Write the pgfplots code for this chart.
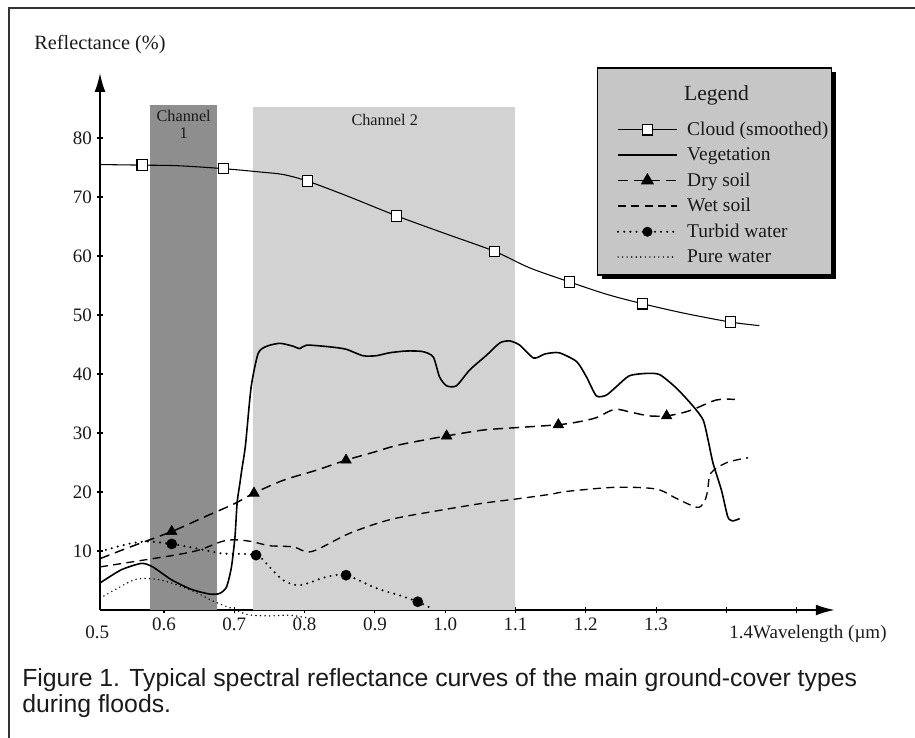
\documentclass[border=0pt]{standalone}
\usepackage{pgfplots}
\pgfplotsset{compat=1.18}
\usepackage{fontspec}
\setmainfont{Liberation Serif}
\newfontfamily\capfont{Liberation Sans}
\usetikzlibrary{arrows.meta}
\definecolor{chA}{HTML}{8E8E8E}
\definecolor{chB}{HTML}{D2D2D2}
\definecolor{legfill}{HTML}{C6C6C6}
\definecolor{ink}{HTML}{1A1A1A}
\pgfplotsset{
  cloudst/.style={black, line width=0.8pt},
  vegst/.style={black, line width=1.2pt},
  dryst/.style={black, line width=1.1pt, dash pattern=on 7.5pt off 4.5pt},
  wetst/.style={black, line width=1.0pt, dash pattern=on 6pt off 4pt},
  turbst/.style={black, line width=1.7pt, line cap=round, dash pattern=on 0pt off 4.6pt},
  purest/.style={black, line width=1.2pt, line cap=round, dash pattern=on 0pt off 3.4pt},
}
\begin{document}
\begin{tikzpicture}
\useasboundingbox (0,0) rectangle (686.25pt,-553.5pt);
\begin{scope}[x=0.75pt,y=-0.75pt]
\draw[line width=1.5pt, black!80] (9,738) -- (9,8) -- (915,8);
\node[anchor=north west, align=left, inner sep=0pt, font=\capfont\fontsize{18.6}{19.6}\selectfont, text=ink] at (22,668) {Figure 1. Typical spectral reflectance curves of the main ground-cover types\\during floods.};
\end{scope}
\begin{axis}[
  at={(75pt,-457.5pt)}, anchor=south west,
  x=527.25pt, y=4.425pt,
  xmin=0.509, xmax=1.554, ymin=0, ymax=91,
  axis lines=left,
  axis line style={line width=1.1pt, -{Latex[length=14pt,width=8pt]}},
  clip=false,
  tick align=center, major tick length=5pt,
  tick style={line width=0.8pt, black},
  xtick={0.6,0.7,0.8,0.9,1.0,1.1,1.2,1.3,1.4,1.5},
  xticklabels={0.6,0.7,0.8,0.9,1.0,1.1,1.2,1.3,,},
  ytick={10,20,30,40,50,60,70,80},
  yticklabels={10,20,30,40,50,60,70,80},
  ticklabel style={font=\fontsize{14.25}{17}\selectfont, text=ink},
  /pgf/number format/assume math mode=true,
  legend style={at={(axis cs:1.244,83.2)}, anchor=north west, draw=none, fill=none,
     font=\fontsize{14.6}{15}\selectfont, row sep=3.6pt, inner sep=0pt,
     nodes={inner sep=2pt, text=ink}},
  legend cell align=left,
  legend image code/.code={\draw[mark repeat=2,mark phase=2,#1] plot coordinates {(0pt,0pt)(22pt,0pt)(44pt,0pt)}; \path (49pt,0pt);},
]
% channel bands
\addplot[fill=chA, draw=none, forget plot] coordinates {(0.580,85.6) (0.676,85.6)} \closedcycle;
\addplot[fill=chB, draw=none, forget plot] coordinates {(0.726,85.2) (1.100,85.2)} \closedcycle;
\node[align=center, inner sep=0pt, font=\fontsize{12.2}{12.5}\selectfont, text=ink] at (axis cs:0.628,82.3) {Channel\\1};
\node[inner sep=0pt, font=\fontsize{12.2}{12.5}\selectfont, text=ink] at (axis cs:0.914,83.0) {Channel 2};

% cloud
\addplot[cloudst, smooth, tension=0.5, forget plot] coordinates {
(0.509,75.5) (0.569,75.4) (0.620,75.3) (0.685,74.8) (0.740,74.2) (0.770,73.8)
(0.804,72.7) (0.860,70.2) (0.931,66.8) (1.000,63.8) (1.070,60.8) (1.120,58.0)
(1.177,55.6) (1.230,53.5) (1.281,51.9) (1.340,50.3) (1.406,48.8) (1.447,48.2)};
\addplot[only marks, mark=square*, mark size=3.9pt, mark options={fill=white, draw=black, line width=0.8pt}, forget plot] coordinates {
(0.569,75.4) (0.685,74.8) (0.804,72.7) (0.931,66.8) (1.070,60.8) (1.177,55.6) (1.281,51.9) (1.406,48.8)};

% vegetation
\addplot[vegst, smooth, tension=0.4, forget plot] coordinates {
(0.508,4.5) (0.539,6.8) (0.568,7.9) (0.584,7.3) (0.611,5.1) (0.639,3.5) (0.665,2.7)
(0.679,2.8) (0.689,3.9) (0.696,7.3) (0.701,12.4) (0.704,18.1) (0.708,21.5) (0.711,24.0)
(0.716,28.0) (0.724,37.8) (0.734,43.5) (0.746,44.7) (0.765,45.2) (0.784,44.7) (0.793,44.3)
(0.803,44.9) (0.836,44.6) (0.859,44.2) (0.883,43.1) (0.902,43.1) (0.921,43.6) (0.945,43.9)
(0.968,43.8) (0.983,42.9) (0.992,39.5) (1.002,38.0) (1.016,38.0) (1.035,40.7) (1.059,43.2)
(1.078,45.3) (1.092,45.6) (1.106,44.9) (1.126,42.7) (1.142,43.4) (1.162,43.6) (1.187,42.1)
(1.201,39.5) (1.215,36.3) (1.229,36.4) (1.243,37.8) (1.262,39.7) (1.286,40.1) (1.305,39.9)
(1.329,37.6) (1.353,34.5) (1.367,32.2) (1.374,28.8) (1.381,24.9) (1.393,20.3) (1.402,15.8)
(1.409,15.1) (1.419,15.5)};

% dry soil
\addplot[dryst, smooth, tension=0.5, forget plot] coordinates {
(0.509,8.7) (0.550,10.6) (0.611,13.3) (0.660,15.9) (0.700,18.0) (0.728,19.8) (0.770,22.0)
(0.817,23.7) (0.859,25.4) (0.900,26.8) (0.935,28.0) (1.002,29.5) (1.054,30.5) (1.100,30.9)
(1.161,31.4) (1.190,31.9) (1.215,32.6) (1.241,34.0) (1.265,33.5) (1.290,32.9) (1.315,32.9)
(1.340,33.5) (1.357,34.2) (1.386,35.6) (1.412,35.7)};
\addplot[only marks, mark=triangle*, mark size=4.6pt, mark options={fill=black, draw=black, solid}, forget plot] coordinates {
(0.611,13.3) (0.728,19.8) (0.859,25.4) (1.002,29.5) (1.161,31.4) (1.315,32.9)};

% wet soil
\addplot[wetst, smooth, tension=0.5, forget plot] coordinates {
(0.509,7.3) (0.573,8.5) (0.620,9.4) (0.651,10.2) (0.682,11.6) (0.701,11.9) (0.725,11.6)
(0.750,10.9) (0.784,10.7) (0.810,9.9) (0.864,13.0) (0.921,15.3) (0.983,16.7) (1.054,18.1)
(1.100,18.8) (1.149,19.6) (1.173,20.1) (1.243,20.8) (1.300,20.5) (1.329,18.9) (1.358,17.4)
(1.368,18.2) (1.373,20.0) (1.378,23.2) (1.401,25.0) (1.431,25.8)};

% turbid water
\addplot[turbst, smooth, tension=0.5, forget plot] coordinates {
(0.509,9.9) (0.549,11.2) (0.577,11.6) (0.611,11.2) (0.644,10.5) (0.682,9.6) (0.731,9.3)
(0.750,7.3) (0.769,5.1) (0.793,4.2) (0.831,5.6) (0.859,5.9) (0.902,3.7) (0.940,2.3)
(0.961,1.4) (0.980,0.3)};
\addplot[only marks, mark=*, mark size=3.8pt, mark options={fill=black, draw=black, solid}, forget plot] coordinates {
(0.611,11.2) (0.731,9.3) (0.859,5.9) (0.961,1.4)};

% pure water
\addplot[purest, smooth, tension=0.5, forget plot] coordinates {
(0.509,2.0) (0.530,3.4) (0.560,5.2) (0.590,5.2) (0.620,4.2) (0.645,3.0) (0.670,1.5)
(0.700,0.1) (0.720,-0.8) (0.750,-1.0) (0.780,-0.9) (0.807,-1.4)};

% legend box
\fill[black] (axis cs:1.2226,91.18) rectangle (axis cs:1.5555,56.10);
\filldraw[fill=legfill, draw=black, line width=0.8pt] (axis cs:1.2169,91.86) rectangle (axis cs:1.5498,56.78);
\node[font=\fontsize{16.2}{18}\selectfont, text=ink] at (axis cs:1.386,87.3) {Legend};

% axis text
\node[font=\fontsize{15.2}{17}\selectfont, text=ink] at (axis cs:0.509,95.8) {Reflectance (\%)};
\node[anchor=north, font=\fontsize{14.25}{17}\selectfont, text=ink, inner sep=0pt] at (axis cs:0.505,-2.6) {0.5};
\node[anchor=north west, font=\fontsize{14.25}{17}\selectfont, text=ink, inner sep=0pt] at (axis cs:1.404,-2.6) {1.4Wavelength (\textmu m)};

% legend entries
\addlegendimage{cloudst, mark=square*, mark size=3.9pt, mark options={fill=white, draw=black}}
\addlegendentry{Cloud (smoothed)}
\addlegendimage{vegst}
\addlegendentry{Vegetation}
\addlegendimage{dryst, mark=triangle*, mark size=4.6pt, mark options={fill=black, solid}}
\addlegendentry{Dry soil}
\addlegendimage{wetst}
\addlegendentry{Wet soil}
\addlegendimage{turbst, mark=*, mark size=3.5pt, mark options={fill=black, solid, line width=0.5pt}}
\addlegendentry{Turbid water}
\addlegendimage{purest}
\addlegendentry{Pure water}
\end{axis}
\end{tikzpicture}
\end{document}
